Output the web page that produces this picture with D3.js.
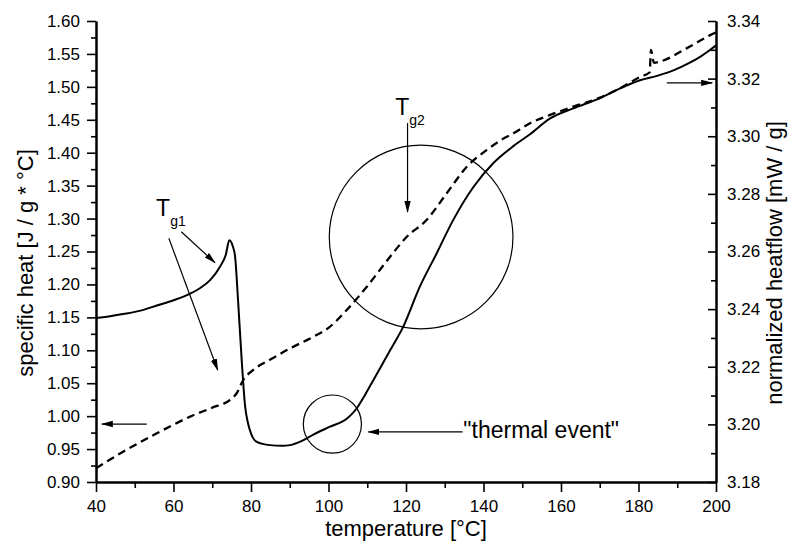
<!DOCTYPE html>
<html lang="en">
<head>
<meta charset="utf-8">
<script src="https://cdn.jsdelivr.net/npm/d3@7"></script>
<style>
  body { margin: 0; background: #fff; }
  svg text { font-family: "Liberation Sans", Arial, Helvetica, sans-serif; fill: #000; }
</style>
<script>
// specific heat, solid line, left axis
const cpTemp  = [40, 44, 47, 52, 55.7, 60, 64.3, 67, 69.5, 72, 73.5, 74.4, 75.3, 75.9, 76.7, 77.6, 78.5, 79.2, 79.7, 80.5, 81.5, 84.9, 88, 90.1, 93, 96.1, 100.4, 104.7, 106, 107.3, 109.5, 111.6, 115.9, 119.3, 123.6, 127.9, 132.2, 137.4, 142.5, 147.7, 152, 157.2, 163, 170.1, 175, 180.4, 185, 189, 193, 196, 198, 200];
const cpValue = [1.149, 1.152, 1.155, 1.161, 1.168, 1.176, 1.186, 1.195, 1.207, 1.227, 1.245, 1.267, 1.258, 1.242, 1.172, 1.085, 1.014, 0.990, 0.979, 0.967, 0.961, 0.956, 0.955, 0.956, 0.962, 0.972, 0.984, 0.996, 1.003, 1.012, 1.033, 1.055, 1.100, 1.136, 1.197, 1.247, 1.298, 1.348, 1.384, 1.410, 1.428, 1.452, 1.467, 1.483, 1.497, 1.510, 1.517, 1.525, 1.536, 1.546, 1.554, 1.563];

// normalized heatflow, dashed line, right axis
const hfTemp  = [40, 47, 55.7, 64.3, 70, 74.6, 76.3, 78, 80.6, 85, 90.1, 96.1, 100, 104.7, 109.9, 115.9, 120.2, 125.3, 130.5, 135.7, 140.8, 144.3, 147.7, 152, 157.2, 163, 170.1, 175, 180.4, 182.9, 183.2, 184, 185.5, 192.4, 198.5, 200];
const hfValue = [3.1848, 3.1905, 3.1969, 3.2027, 3.2058, 3.2085, 3.2108, 3.2154, 3.2189, 3.2225, 3.2264, 3.2304, 3.2335, 3.2397, 3.2478, 3.2582, 3.2651, 3.2709, 3.2802, 3.2894, 3.2952, 3.2985, 3.3010, 3.3045, 3.3074, 3.3102, 3.3134, 3.3165, 3.3206, 3.3222, 3.3300, 3.3255, 3.3259, 3.3305, 3.3351, 3.3361];

// tick values
const xTicks = [40, 60, 80, 100, 120, 140, 160, 180, 200];
const xMinor = [50, 70, 90, 110, 130, 150, 170, 190];
const yLeftTicks = d3.range(0, 15).map(i => +(0.90 + i * 0.05).toFixed(2));
const yLeftMinor = d3.range(0, 14).map(i => +(0.925 + i * 0.05).toFixed(3));
const yRightTicks = d3.range(0, 9).map(i => +(3.18 + i * 0.02).toFixed(2));
const yRightMinor = d3.range(0, 8).map(i => +(3.19 + i * 0.02).toFixed(2));

// annotations, in data units (temperature, specific heat)
const circles = [
  {t: 123.9, v: 1.272, rT: 23.7},
  {t: 101.0, v: 0.988, rT: 7.5}
];
const arrows = [
  {t1: 62.0, v1: 1.280, t2: 70.7, v2: 1.233},
  {t1: 58.8, v1: 1.270, t2: 71.4, v2: 1.070},
  {t1: 53.1, v1: 0.988, t2: 41.5, v2: 0.988},
  {t1: 120.4, v1: 1.445, t2: 120.4, v2: 1.310},
  {t1: 134.6, v1: 0.976, t2: 110.3, v2: 0.976},
  {t1: 187.3, v1: 1.506, t2: 199.0, v2: 1.506}
];
const labels = [
  {t: 55.5, v: 1.304, main: "T", sub: "g1"},
  {t: 117.2, v: 1.458, main: "T", sub: "g2"},
  {t: 134.8, v: 0.967, main: "\"thermal event\"", sub: ""}
];

document.addEventListener("DOMContentLoaded", function(event) {
  const width = 793, height = 551;
  const margin = {top: 21, right: 77, bottom: 69, left: 96};

  const svg = d3.select("body").append("svg")
    .attr("width", width)
    .attr("height", height);

  const x = d3.scaleLinear([40, 200], [margin.left, width - margin.right]);
  const yL = d3.scaleLinear([0.90, 1.60], [height - margin.bottom, margin.top]);
  const yR = d3.scaleLinear([3.18, 3.34], [height - margin.bottom, margin.top]);

  svg.append("defs").append("marker")
    .attr("id", "head")
    .attr("markerUnits", "userSpaceOnUse")
    .attr("viewBox", "0 -4 12 8")
    .attr("refX", 11).attr("refY", 0)
    .attr("markerWidth", 12).attr("markerHeight", 8)
    .attr("orient", "auto")
    .append("path")
    .attr("d", "M0,-3.2L12,0L0,3.2Z")
    .attr("fill", "#000");

  // curves
  const cpLine = d3.line()
    .x((d, i) => x(cpTemp[i]))
    .y(d => yL(d))
    .curve(d3.curveMonotoneX);
  const hfLine = d3.line()
    .x((d, i) => x(hfTemp[i]))
    .y(d => yR(d))
    .curve(d3.curveMonotoneX);

  svg.append("path")
    .attr("d", cpLine(cpValue))
    .attr("fill", "none")
    .attr("stroke", "#000")
    .attr("stroke-width", 2);

  svg.append("path")
    .attr("d", hfLine(hfValue))
    .attr("fill", "none")
    .attr("stroke", "#000")
    .attr("stroke-width", 2.3)
    .attr("stroke-dasharray", "8,5");

  // axes
  const fmt2 = d3.format(".2f");
  const bottom = height - margin.bottom;
  const right = width - margin.right;

  function styleAxis(g) {
    g.select(".domain").attr("stroke-width", 2);
    g.selectAll(".tick line").attr("stroke-width", 1.6);
    g.selectAll(".tick text").attr("font-size", 17).attr("font-family", null);
  }

  svg.append("g")
    .attr("transform", `translate(0,${bottom})`)
    .call(d3.axisBottom(x).tickValues(xMinor).tickSize(6).tickSizeOuter(0).tickFormat(""))
    .call(styleAxis);
  svg.append("g")
    .attr("transform", `translate(0,${bottom})`)
    .call(d3.axisBottom(x).tickValues(xTicks).tickSize(10).tickSizeOuter(0).tickPadding(8).tickFormat(d3.format("d")))
    .call(styleAxis);

  svg.append("g")
    .attr("transform", `translate(${margin.left},0)`)
    .call(d3.axisLeft(yL).tickValues(yLeftMinor).tickSize(5).tickSizeOuter(0).tickFormat(""))
    .call(styleAxis);
  svg.append("g")
    .attr("transform", `translate(${margin.left},0)`)
    .call(d3.axisLeft(yL).tickValues(yLeftTicks).tickSize(9).tickSizeOuter(0).tickPadding(7).tickFormat(fmt2))
    .call(styleAxis);

  svg.append("g")
    .attr("transform", `translate(${right},0)`)
    .call(d3.axisRight(yR).tickValues(yRightMinor).tickSize(-5).tickSizeOuter(0).tickFormat(""))
    .call(styleAxis);
  svg.append("g")
    .attr("transform", `translate(${right},0)`)
    .call(d3.axisRight(yR).tickValues(yRightTicks).tickSize(-8).tickSizeOuter(0).tickPadding(11).tickFormat(fmt2))
    .call(styleAxis);

  // axis titles
  svg.append("text")
    .attr("x", (margin.left + right) / 2)
    .attr("y", 536)
    .attr("text-anchor", "middle")
    .attr("font-size", 22)
    .text("temperature [°C]");

  svg.append("text")
    .attr("transform", "translate(33,263) rotate(-90)")
    .attr("text-anchor", "middle")
    .attr("font-size", 22)
    .text("specific heat [J / g * °C]");

  svg.append("text")
    .attr("transform", "translate(782,263) rotate(-90)")
    .attr("text-anchor", "middle")
    .attr("font-size", 22)
    .text("normalized heatflow [mW / g]");

  // annotations
  const pxPerDeg = x(1) - x(0);
  svg.selectAll("circle.note")
    .data(circles)
    .join("circle")
    .attr("class", "note")
    .attr("cx", d => x(d.t))
    .attr("cy", d => yL(d.v))
    .attr("r", d => d.rT * pxPerDeg)
    .attr("fill", "none")
    .attr("stroke", "#000")
    .attr("stroke-width", 1.2);

  svg.selectAll("line.arrow")
    .data(arrows)
    .join("line")
    .attr("class", "arrow")
    .attr("x1", d => x(d.t1))
    .attr("y1", d => yL(d.v1))
    .attr("x2", d => x(d.t2))
    .attr("y2", d => yL(d.v2))
    .attr("stroke", "#000")
    .attr("stroke-width", 1.2)
    .attr("marker-end", "url(#head)");

  const lab = svg.selectAll("text.note")
    .data(labels)
    .join("text")
    .attr("class", "note")
    .attr("x", d => x(d.t))
    .attr("y", d => yL(d.v))
    .attr("font-size", 23);
  lab.append("tspan").text(d => d.main);
  lab.append("tspan")
    .attr("dy", 10)
    .attr("font-size", 14)
    .text(d => d.sub);
});
</script>
</head>
<body>
</body>
</html>
